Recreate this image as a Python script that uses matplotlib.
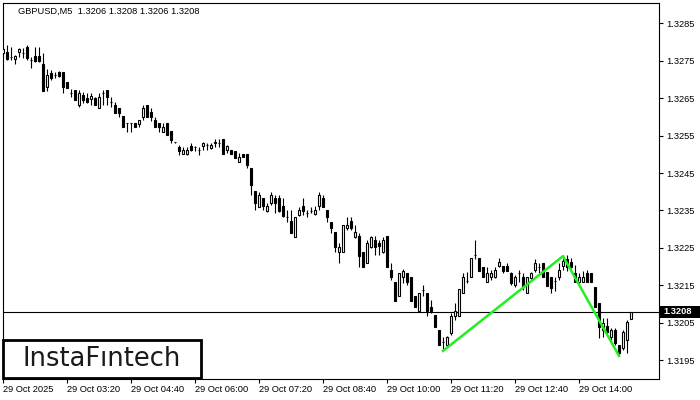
import matplotlib
matplotlib.use("Agg")
import matplotlib.pyplot as plt
from matplotlib.patches import Rectangle

plt.rcParams["font.family"] = ["Liberation Sans", "DejaVu Sans"]

# GBPUSD M5, 29 Oct 2025 02:00 .. 14:45 (158 bars)
opens = [
    1.32770, 1.32773, 1.32760, 1.32754, 1.32773, 1.32770, 1.32787, 1.32752, 1.32762, 1.32762,
    1.32741, 1.32680, 1.32717, 1.32712, 1.32720, 1.32720, 1.32693, 1.32664, 1.32672, 1.32632,
    1.32658, 1.32650, 1.32648, 1.32650, 1.32624, 1.32664, 1.32672, 1.32640, 1.32632, 1.32624,
    1.32602, 1.32584, 1.32584, 1.32584, 1.32581, 1.32600, 1.32632, 1.32613, 1.32592, 1.32584,
    1.32560, 1.32584, 1.32562, 1.32533, 1.32520, 1.32501, 1.32501, 1.32522, 1.32520, 1.32512,
    1.32522, 1.32525, 1.32517, 1.32530, 1.32530, 1.32541, 1.32512, 1.32512, 1.32509, 1.32479,
    1.32501, 1.32501, 1.32463, 1.32402, 1.32359, 1.32383, 1.32348, 1.32370, 1.32383, 1.32383,
    1.32362, 1.32332, 1.32322, 1.32279, 1.32338, 1.32362, 1.32343, 1.32348, 1.32340, 1.32362,
    1.32383, 1.32351, 1.32319, 1.32292, 1.32239, 1.32239, 1.32303, 1.32322, 1.32279, 1.32282,
    1.32239, 1.32210, 1.32252, 1.32271, 1.32263, 1.32239, 1.32282, 1.32191, 1.32159, 1.32121,
    1.32172, 1.32183, 1.32172, 1.32121, 1.32081, 1.32137, 1.32129, 1.32092, 1.32071, 1.32031,
    1.31999, 1.31991, 1.32023, 1.32068, 1.32068, 1.32129, 1.32162, 1.32172, 1.32231, 1.32223,
    1.32199, 1.32159, 1.32172, 1.32172, 1.32202, 1.32202, 1.32202, 1.32183, 1.32151, 1.32183,
    1.32172, 1.32129, 1.32170, 1.32191, 1.32199, 1.32210, 1.32186, 1.32172, 1.32162, 1.32172,
    1.32202, 1.32220, 1.32212, 1.32183, 1.32159, 1.32159, 1.32183, 1.32183, 1.32145, 1.32103,
    1.32031, 1.32042, 1.32012, 1.32031, 1.31991, 1.31983, 1.32004, 1.32060,
]
highs = [
    1.32787, 1.32792, 1.32787, 1.32765, 1.32784, 1.32784, 1.32792, 1.32760, 1.32787, 1.32787,
    1.32770, 1.32728, 1.32725, 1.32720, 1.32722, 1.32720, 1.32693, 1.32674, 1.32672, 1.32672,
    1.32666, 1.32664, 1.32664, 1.32653, 1.32664, 1.32672, 1.32672, 1.32653, 1.32640, 1.32624,
    1.32602, 1.32584, 1.32584, 1.32584, 1.32592, 1.32632, 1.32632, 1.32624, 1.32600, 1.32584,
    1.32584, 1.32584, 1.32562, 1.32533, 1.32525, 1.32520, 1.32520, 1.32530, 1.32522, 1.32520,
    1.32533, 1.32530, 1.32530, 1.32541, 1.32541, 1.32541, 1.32525, 1.32512, 1.32509, 1.32504,
    1.32501, 1.32501, 1.32463, 1.32402, 1.32399, 1.32383, 1.32370, 1.32399, 1.32391, 1.32391,
    1.32383, 1.32351, 1.32351, 1.32332, 1.32359, 1.32383, 1.32351, 1.32359, 1.32362, 1.32399,
    1.32391, 1.32351, 1.32319, 1.32292, 1.32263, 1.32311, 1.32332, 1.32332, 1.32311, 1.32290,
    1.32239, 1.32271, 1.32282, 1.32282, 1.32271, 1.32279, 1.32282, 1.32210, 1.32159, 1.32183,
    1.32194, 1.32183, 1.32172, 1.32121, 1.32129, 1.32151, 1.32129, 1.32111, 1.32071, 1.32031,
    1.32012, 1.32015, 1.32076, 1.32103, 1.32140, 1.32183, 1.32186, 1.32223, 1.32271, 1.32223,
    1.32199, 1.32199, 1.32191, 1.32199, 1.32223, 1.32202, 1.32210, 1.32186, 1.32178, 1.32191,
    1.32183, 1.32172, 1.32186, 1.32220, 1.32210, 1.32210, 1.32186, 1.32172, 1.32172, 1.32210,
    1.32231, 1.32231, 1.32223, 1.32204, 1.32183, 1.32188, 1.32191, 1.32183, 1.32145, 1.32103,
    1.32063, 1.32063, 1.32036, 1.32036, 1.31991, 1.32031, 1.32057, 1.32080,
]
lows = [
    1.32760, 1.32752, 1.32752, 1.32741, 1.32760, 1.32757, 1.32752, 1.32730, 1.32746, 1.32746,
    1.32669, 1.32669, 1.32698, 1.32704, 1.32706, 1.32664, 1.32677, 1.32653, 1.32645, 1.32626,
    1.32637, 1.32637, 1.32632, 1.32632, 1.32624, 1.32632, 1.32632, 1.32626, 1.32610, 1.32600,
    1.32573, 1.32560, 1.32560, 1.32573, 1.32573, 1.32592, 1.32600, 1.32589, 1.32573, 1.32560,
    1.32560, 1.32552, 1.32530, 1.32530, 1.32498, 1.32501, 1.32498, 1.32509, 1.32509, 1.32498,
    1.32512, 1.32512, 1.32514, 1.32520, 1.32520, 1.32501, 1.32504, 1.32501, 1.32490, 1.32479,
    1.32493, 1.32463, 1.32391, 1.32351, 1.32359, 1.32351, 1.32346, 1.32364, 1.32343, 1.32346,
    1.32332, 1.32319, 1.32290, 1.32279, 1.32335, 1.32338, 1.32332, 1.32343, 1.32338, 1.32351,
    1.32359, 1.32319, 1.32290, 1.32239, 1.32210, 1.32239, 1.32298, 1.32298, 1.32277, 1.32199,
    1.32199, 1.32210, 1.32250, 1.32231, 1.32231, 1.32236, 1.32199, 1.32164, 1.32108, 1.32121,
    1.32156, 1.32151, 1.32108, 1.32092, 1.32081, 1.32121, 1.32068, 1.32076, 1.32039, 1.31991,
    1.31977, 1.31986, 1.32017, 1.32057, 1.32068, 1.32129, 1.32156, 1.32172, 1.32220, 1.32188,
    1.32172, 1.32159, 1.32164, 1.32170, 1.32199, 1.32183, 1.32188, 1.32151, 1.32145, 1.32159,
    1.32137, 1.32129, 1.32167, 1.32186, 1.32183, 1.32172, 1.32148, 1.32129, 1.32135, 1.32164,
    1.32191, 1.32188, 1.32196, 1.32159, 1.32156, 1.32159, 1.32159, 1.32159, 1.32092, 1.32009,
    1.32012, 1.32017, 1.31996, 1.31991, 1.31961, 1.31977, 1.31969, 1.32060,
]
closes = [
    1.32781, 1.32754, 1.32760, 1.32762, 1.32781, 1.32770, 1.32757, 1.32752, 1.32749, 1.32749,
    1.32669, 1.32712, 1.32704, 1.32712, 1.32709, 1.32680, 1.32677, 1.32664, 1.32645, 1.32664,
    1.32645, 1.32640, 1.32656, 1.32632, 1.32653, 1.32664, 1.32653, 1.32640, 1.32610, 1.32610,
    1.32573, 1.32584, 1.32584, 1.32573, 1.32592, 1.32624, 1.32600, 1.32600, 1.32573, 1.32573,
    1.32573, 1.32552, 1.32538, 1.32533, 1.32509, 1.32512, 1.32512, 1.32512, 1.32520, 1.32512,
    1.32530, 1.32525, 1.32525, 1.32533, 1.32530, 1.32501, 1.32522, 1.32501, 1.32490, 1.32493,
    1.32493, 1.32471, 1.32417, 1.32370, 1.32391, 1.32362, 1.32362, 1.32391, 1.32370, 1.32348,
    1.32335, 1.32332, 1.32290, 1.32332, 1.32351, 1.32348, 1.32343, 1.32348, 1.32351, 1.32391,
    1.32359, 1.32332, 1.32303, 1.32252, 1.32252, 1.32311, 1.32311, 1.32303, 1.32292, 1.32228,
    1.32199, 1.32263, 1.32279, 1.32252, 1.32255, 1.32271, 1.32199, 1.32172, 1.32108, 1.32183,
    1.32188, 1.32159, 1.32108, 1.32092, 1.32129, 1.32137, 1.32081, 1.32081, 1.32039, 1.31991,
    1.31999, 1.32012, 1.32068, 1.32081, 1.32140, 1.32172, 1.32162, 1.32223, 1.32231, 1.32188,
    1.32172, 1.32183, 1.32183, 1.32191, 1.32212, 1.32188, 1.32188, 1.32156, 1.32172, 1.32183,
    1.32145, 1.32172, 1.32183, 1.32210, 1.32199, 1.32172, 1.32148, 1.32143, 1.32162, 1.32191,
    1.32215, 1.32199, 1.32199, 1.32159, 1.32172, 1.32172, 1.32159, 1.32159, 1.32092, 1.32039,
    1.32049, 1.32025, 1.32031, 1.31996, 1.31969, 1.32025, 1.32052, 1.32080,
]

time_labels = ["29 Oct 2025", "29 Oct 03:20", "29 Oct 04:40", "29 Oct 06:00", "29 Oct 07:20",
               "29 Oct 08:40", "29 Oct 10:00", "29 Oct 11:20", "29 Oct 12:40", "29 Oct 14:00"]
price_ticks = [1.3195, 1.3205, 1.3215, 1.3225, 1.3235, 1.3245, 1.3255, 1.3265, 1.3275, 1.3285]

# double-top pattern (bar index, price)
pattern_x = [110, 140, 154]
pattern_y = [1.31975, 1.32228, 1.31962]

last_price = 1.3208
title = "GBPUSD,M5  1.3206 1.3208 1.3206 1.3208"

fig = plt.figure(figsize=(7, 4), dpi=100)
ax = fig.add_axes([3 / 700, 21 / 400, 656 / 700, 376 / 400])

x = list(range(len(closes)))
bottoms = [min(o, c) for o, c in zip(opens, closes)]
heights = [abs(c - o) for o, c in zip(opens, closes)]
faces = ["white" if c >= o else "black" for o, c in zip(opens, closes)]

ax.vlines(x, lows, highs, color="black", lw=0.8, zorder=2)
ax.bar(x, heights, width=0.5, bottom=bottoms, color=faces, edgecolor="black",
       linewidth=0.8, zorder=3)

ax.axhline(last_price, color="black", lw=0.8, zorder=1)
ax.plot(pattern_x, pattern_y, color="#22ee22", lw=1.8, zorder=4)

ax.set_xlim(0, 164)
ax.set_ylim(1.31900, 1.32904)

ax.yaxis.tick_right()
ax.set_yticks(price_ticks)
ax.set_yticklabels([f"{p:.4f}" for p in price_ticks])
ax.set_xticks(range(0, 16 * len(time_labels), 16))
ax.set_xticklabels(time_labels, ha="left")
ax.tick_params(axis="both", direction="out", length=3, width=0.8, labelsize=6.7,
               colors="black")
ax.tick_params(axis="y", pad=2)
ax.tick_params(axis="x", pad=1.5)
for s in ax.spines.values():
    s.set_linewidth(0.8)

fig.text(18 / 700, 1 - 11 / 400, title, fontsize=6.7, va="center", ha="left")

# current price marker on the price scale
fig.patches.append(Rectangle((660 / 700, (400 - 318) / 400), 40 / 700, 12 / 400,
                             transform=fig.transFigure, facecolor="black",
                             edgecolor="none", zorder=5))
fig.text(663 / 700, 1 - 311.5 / 400, f"{last_price:.4f}", fontsize=6.7, color="white",
         fontweight="bold", va="center", ha="left", zorder=6)

# watermark logo box
fig.patches.append(Rectangle((3 / 700, 22 / 400), 198 / 700, 38 / 400,
                             transform=fig.transFigure, facecolor="white",
                             edgecolor="black", linewidth=2, zorder=5))
fig.text(102 / 700, 1 - 359 / 400, "InstaF\u0131ntech", fontsize=18.5, color="#1a1a1a",
         family="DejaVu Sans", va="center", ha="center", zorder=6)

plt.savefig("out.png", dpi=100)
